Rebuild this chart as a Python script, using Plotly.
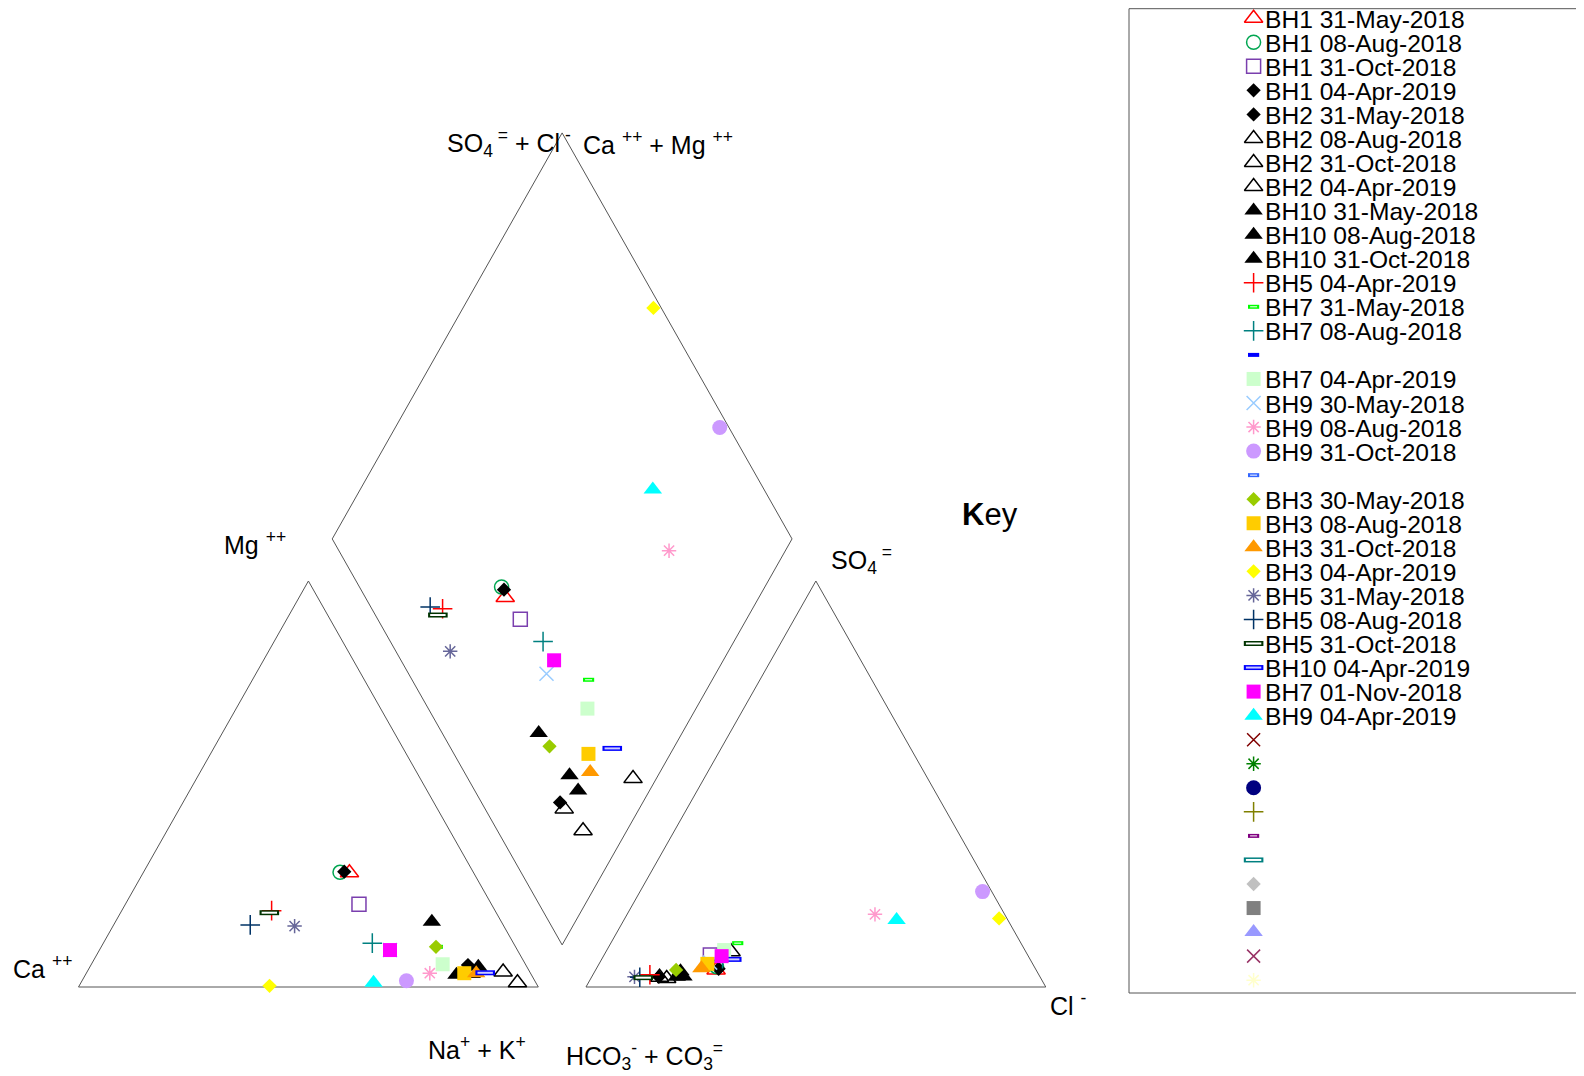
import math
import plotly.graph_objects as go

# ---------------- data (percent of meq) ----------------
labels = [
    "BH1 31-May-2018", "BH1 08-Aug-2018", "BH1 31-Oct-2018", "BH1 04-Apr-2019",
    "BH2 31-May-2018", "BH2 08-Aug-2018", "BH2 31-Oct-2018", "BH2 04-Apr-2019",
    "BH10 31-May-2018", "BH10 08-Aug-2018", "BH10 31-Oct-2018", "BH5 04-Apr-2019",
    "BH7 31-May-2018", "BH7 08-Aug-2018", "", "BH7 04-Apr-2019",
    "BH9 30-May-2018", "BH9 08-Aug-2018", "BH9 31-Oct-2018", "",
    "BH3 30-May-2018", "BH3 08-Aug-2018", "BH3 31-Oct-2018", "BH3 04-Apr-2019",
    "BH5 31-May-2018", "BH5 08-Aug-2018", "BH5 31-Oct-2018", "BH10 04-Apr-2019",
    "BH7 01-Nov-2018", "BH9 04-Apr-2019",
    "", "", "", "", "", "", "", "", "", "", "",
]
N = None
ca = [27.0, 29.0, 28.8, 28.0, 12.6, 12.9, 5.8, 4.0, 15.1, 16.3, 10.55, 48.6,
      17.0, 30.7, N, 18.0, 27.7, 21.9, 27.9, N, 17.3, 14.4, 11.8, 58.3,
      45.5, 55.0, 49.35, 9.8, 27.7, 35.3] + [N] * 11
mg = [28.15, 28.25, 20.4, 28.4, 5.4, 3.4, 3.7, 1.06, 16.1, 3.0, 5.0, 18.8,
      9.9, 10.8, N, 5.6, 9.1, 3.4, 1.55, N, 9.9, 3.4, 3.4, 0.3,
      15.0, 15.3, 18.3, 3.5, 9.1, 1.06] + [N] * 11
cl = [26.2, 25.9, 23.1, 26.6, 14.6, 14.8, 16.5, 27.2, 18.5, 18.6, 19.9, 12.4,
      27.6, 26.2, N, 25.5, 24.0, 53.9, 74.5, N, 17.5, 23.55, 22.8, 81.4,
      9.3, 10.5, 11.3, 28.3, 25.7, 59.3] + [N] * 11
so4 = [4.2, 5.0, 7.9, 4.5, 2.5, 2.4, 2.1, 8.7, 2.5, 3.9, 2.6, 3.0,
       10.8, 7.0, N, 9.1, 6.0, 17.9, 23.5, N, 4.2, 5.7, 4.6, 16.9,
       2.5, 2.4, 2.3, 6.8, 7.6, 16.5] + [N] * 11

# ---------------- marker styles (symbol, size, colour, rect inner colour) ----------------
styles = [
    ("triangle-up-open", 16, "#ff0000", None),
    ("circle-open", 14, "#00a651", None),
    ("square-open", 14, "#7a3fae", None),
    ("diamond", 11, "#000000", None),
    ("diamond", 11, "#000000", None),
    ("triangle-up-open", 16, "#000000", None),
    ("triangle-up-open", 16, "#000000", None),
    ("triangle-up-open", 16, "#000000", None),
    ("triangle-up", 16, "#000000", None),
    ("triangle-up", 16, "#000000", None),
    ("triangle-up", 16, "#000000", None),
    ("cross-thin", 14, "#ff0000", None),
    ("rect", 8, "#00ff00", "#ffffff"),
    ("cross-thin", 14, "#008080", None),
    ("rect", 8, "#0000ff", "#0000ff"),
    ("square", 14, "#ccffcc", None),
    ("x-thin", 14, "#99ccff", None),
    ("asterisk", 12, "#ff99cc", None),
    ("circle", 15, "#cc99ff", None),
    ("rect", 8, "#3366ff", "#ffffff"),
    ("diamond", 11, "#99cc00", None),
    ("square", 14, "#ffcc00", None),
    ("triangle-up", 16, "#ff9900", None),
    ("diamond", 11, "#ffff00", None),
    ("asterisk", 12, "#666699", None),
    ("cross-thin", 14, "#003366", None),
    ("rect", 14, "#003300", "#ffffff"),
    ("rect", 14, "#0000ff", "#ccccff"),
    ("square", 14, "#ff00ff", None),
    ("triangle-up", 16, "#00ffff", None),
    ("x-thin", 13, "#800000", None),
    ("asterisk", 12, "#008000", None),
    ("circle", 15, "#000080", None),
    ("cross-thin", 14, "#808000", None),
    ("rect", 8, "#800080", "#ffffff"),
    ("rect", 14, "#008080", "#ffffff"),
    ("diamond", 11, "#c0c0c0", None),
    ("square", 14, "#808080", None),
    ("triangle-up", 16, "#9999ff", None),
    ("x-thin", 13, "#993366", None),
    ("asterisk", 12, "#ffffcc", None),
]

# ---------------- Piper geometry ----------------
GAP = 10.37
S3 = math.sqrt(3) / 2
H = 100 * S3
BX, BY = 100 + GAP / 2, GAP * S3


def cation_xy(c, m):
    nak = 100 - c - m
    return nak + m / 2, m * S3


def anion_xy(chl, s):
    return 100 + GAP + chl + s / 2, s * S3


def diamond_xy(c, m, chl, s):
    C = c + m
    S = chl + s
    return BX + 0.5 * (S - C), BY + S3 * (S + C)


FONT = "Liberation Sans, Arial, Helvetica, sans-serif"
fig = go.Figure()

# frame lines of the three fields
Lx, Ly = [0, 100, 50, 0], [0, 0, H, 0]
Rx, Ry = [100 + GAP, 200 + GAP, 150 + GAP, 100 + GAP], [0, 0, H, 0]
Dx = [BX, BX + 50, BX, BX - 50, BX]
Dy = [BY, BY + H, BY + 2 * H, BY + H, BY]
for xs, ys in ((Lx, Ly), (Rx, Ry), (Dx, Dy)):
    fig.add_trace(go.Scatter(x=xs, y=ys, mode="lines", hoverinfo="skip",
                             line=dict(color="#555555", width=1), showlegend=False))


def marker_traces(xs, ys, style, xaxis="x", yaxis="y", name=""):
    sym, size, color, inner = style
    out = []
    if sym == "rect":
        h = 5 if size > 10 else 4
        out.append(go.Scatter(x=xs, y=ys, mode="markers", name=name, xaxis=xaxis, yaxis=yaxis,
                              marker=dict(symbol="line-ew", size=size, color=color,
                                          line=dict(color=color, width=h)),
                              showlegend=False))
        if inner != color:
            out.append(go.Scatter(x=xs, y=ys, mode="markers", xaxis=xaxis, yaxis=yaxis,
                                  hoverinfo="skip", name=name,
                                  marker=dict(symbol="line-ew", size=size - 3, color=inner,
                                              line=dict(color=inner, width=h - 3)),
                                  showlegend=False))
    else:
        thin = sym.endswith("-thin") or sym == "asterisk" or sym.endswith("-open")
        out.append(go.Scatter(x=xs, y=ys, mode="markers", name=name, xaxis=xaxis, yaxis=yaxis,
                              marker=dict(symbol=sym, size=size, color=color,
                                          line=dict(color=color, width=1.5 if thin else 0)),
                              showlegend=False))
    return out


# data points
for i, lab in enumerate(labels):
    if ca[i] is None:
        continue
    p1 = cation_xy(ca[i], mg[i])
    p2 = anion_xy(cl[i], so4[i])
    p3 = diamond_xy(ca[i], mg[i], cl[i], so4[i])
    for t in marker_traces([p1[0], p2[0], p3[0]], [p1[1], p2[1], p3[1]], styles[i], name=lab):
        fig.add_trace(t)

# ---------------- key (page-pixel overlay axis) ----------------
ROW0, ROWH, KX = 18.2, 24.05, 1253.6
for i, lab in enumerate(labels):
    yk = ROW0 + ROWH * i
    for t in marker_traces([KX], [yk], styles[i], xaxis="x2", yaxis="y2", name=lab or " "):
        fig.add_trace(t)

annotations = []
for i, lab in enumerate(labels):
    if lab:
        annotations.append(dict(x=KX + 9, y=ROW0 + ROWH * i + 1, xref="x2", yref="y2", text=lab,
                                showarrow=False, xanchor="left", yanchor="middle",
                                font=dict(family=FONT, size=24.6, color="black")))

axis_labels = [
    ("SO<sub>4</sub><sup> =</sup> + Cl<sup> -</sup>", 509, 143),
    ("Ca <sup>++</sup> + Mg <sup>++</sup>", 658, 143),
    ("Mg <sup>++</sup>", 255, 543),
    ("Ca <sup>++</sup>", 42, 967),
    ("Na<sup>+</sup> + K<sup>+</sup>", 477, 1048),
    ("HCO<sub>3</sub><sup>-</sup> + CO<sub>3</sub><sup>=</sup>", 644, 1056),
    ("SO<sub>4</sub><sup> =</sup>", 861, 560),
    ("Cl <sup>-</sup>", 1068, 1004),
]
for txt, x, y in axis_labels:
    annotations.append(dict(x=x, y=y, xref="x2", yref="y2", text=txt, showarrow=False,
                            xanchor="center", yanchor="middle",
                            font=dict(family=FONT, size=25, color="black")))
annotations.append(dict(x=990, y=514, xref="x2", yref="y2", text="<b>K</b>ey", showarrow=False,
                        xanchor="center", yanchor="middle",
                        font=dict(family=FONT, size=31, color="black")))

# The page body has an 8px margin, so the figure starts at page pixel (8, 8).
OFF = 8
FW, FH = 1584 - OFF, 1076 - OFF
PXU, PYU = 4.598, 4.688
OX, OY = 78.5 - OFF, 987.0 - OFF
fig.update_layout(
    width=FW, height=FH,
    margin=dict(l=0, r=0, t=0, b=0),
    paper_bgcolor="white", plot_bgcolor="white",
    showlegend=False,
    xaxis=dict(range=[-OX / PXU, (FW - OX) / PXU], visible=False, fixedrange=True),
    yaxis=dict(range=[(OY - FH) / PYU, OY / PYU], visible=False, fixedrange=True),
    xaxis2=dict(range=[OFF, 1584], visible=False, overlaying="x", anchor="y2"),
    yaxis2=dict(range=[1076, OFF], visible=False, overlaying="y", anchor="x2"),
    shapes=[dict(type="rect", xref="x2", yref="y2", x0=1129, x1=1600, y0=8.7, y1=993,
                 line=dict(color="#555555", width=1), fillcolor="rgba(0,0,0,0)")],
    annotations=annotations,
)

fig.write_html("out.html")
